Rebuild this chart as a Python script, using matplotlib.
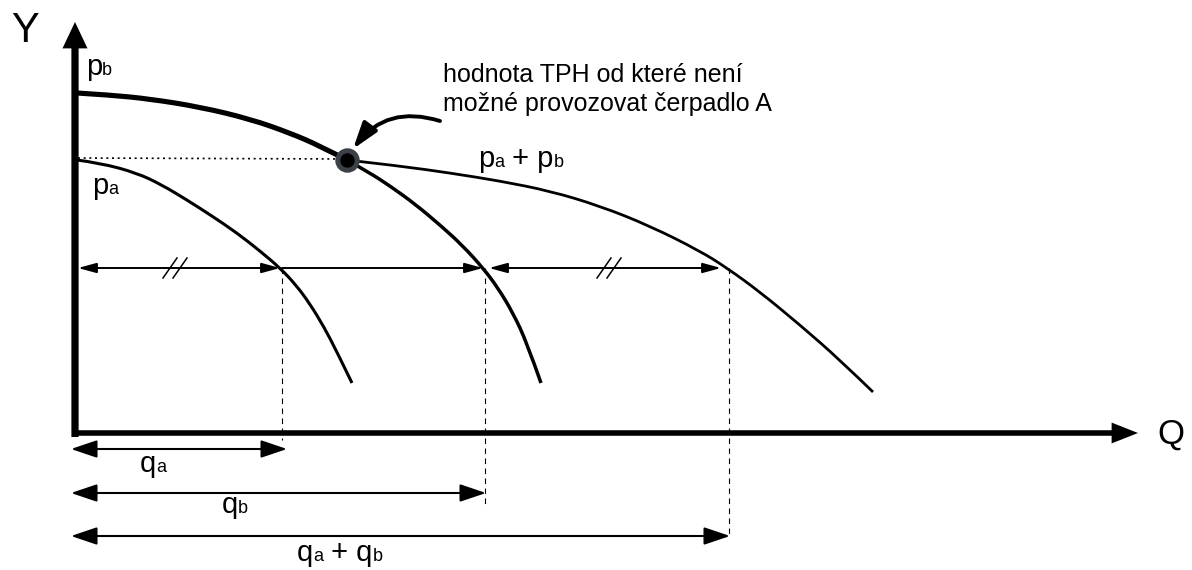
import matplotlib
matplotlib.use("Agg")
import matplotlib.pyplot as plt
from matplotlib.path import Path
from matplotlib.patches import PathPatch

plt.rcParams['font.family'] = ['Liberation Sans', 'DejaVu Sans']

# curves (x = flow Q, y = head Y, in sketch pixel units, y grows downward)
pa_q = [77, 100, 137, 162, 187, 212, 237, 260, 280, 296, 310, 324, 337, 352]
pa_y = [160, 163, 173, 185, 200, 216, 233, 251, 268, 285, 304, 327, 352, 383]

pb_q_top = [77, 110, 150, 200, 250, 290, 320, 347]
pb_y_top = [93, 95, 99, 107, 119, 133, 146, 160]
pb_q_low = [347, 370, 390, 415, 440, 462, 483, 498, 513, 527, 541]
pb_y_low = [160, 173, 186, 204, 225, 245, 268, 288, 313, 343, 383]

sum_q = [347, 400, 450, 500, 550, 600, 650, 700, 727, 760, 800, 840, 873]
sum_y = [160, 166, 173, 181, 191, 206, 226, 251, 268, 292, 325, 360, 392]

# special points
limit_q, limit_y = 347, 160           # point where pump A can't run anymore
dim_y = 268                           # level of the equal-head line
cross_q = [282, 485, 729]             # q_a, q_b, q_a + q_b
dash_ends = [440, 505, 538]
break_q = [175, 609]                  # the "//" marks
bottom_y = [449, 493, 536]
bottom_end = [287, 486, 730]

fig = plt.figure(figsize=(11.92, 5.70), dpi=100)
ax = fig.add_axes([0, 0, 1, 1])
ax.set_xlim(0, 1192)
ax.set_ylim(570, 0)
ax.axis("off")


def curve(xs, ys, lw):
    # smooth quadratic path using the read points as control points
    pts = list(zip(xs, ys))
    verts = [pts[0]]
    codes = [Path.MOVETO]
    for i in range(1, len(pts) - 2):
        mid = ((pts[i][0] + pts[i + 1][0]) / 2, (pts[i][1] + pts[i + 1][1]) / 2)
        verts += [pts[i], mid]
        codes += [Path.CURVE3, Path.CURVE3]
    verts += [pts[-2], pts[-1]]
    codes += [Path.CURVE3, Path.CURVE3]
    ax.add_patch(PathPatch(Path(verts, codes), fill=False, ec="k", lw=lw, capstyle="butt"))


# axes with arrows
ax.annotate("", xy=(75, 22), xytext=(75, 437),
            arrowprops=dict(arrowstyle="simple,head_length=0.95,head_width=0.9,tail_width=0.26",
                            fc="k", ec="none", lw=0, shrinkA=0, shrinkB=0, mutation_scale=20))
ax.annotate("", xy=(1138, 433), xytext=(72, 433),
            arrowprops=dict(arrowstyle="simple,head_length=0.95,head_width=0.75,tail_width=0.2",
                            fc="k", ec="none", lw=0, shrinkA=0, shrinkB=0, mutation_scale=20))

# curves
curve(pa_q, pa_y, 2.2)
curve(pb_q_top, pb_y_top, 3.7)
curve(pb_q_low, pb_y_low, 2.5)
curve(sum_q, sum_y, 2.0)

# dotted line from p_a level to the limit point
ax.plot([78, limit_q], [pa_y[0] - 2, limit_y - 1], color="k", lw=1.2, ls=(0, (1.2, 2.2)))

ax.plot(limit_q, limit_y, "o", ms=14, mfc="k", mec="#3b4049", mew=3.6)

# curved arrow from the note to the point
ax.annotate("", xy=(353, 149), xytext=(440, 121),
            arrowprops=dict(arrowstyle="-|>,head_length=0.8,head_width=0.26", lw=2.8, color="k",
                            connectionstyle="arc3,rad=0.35", shrinkA=0, shrinkB=0,
                            mutation_scale=20))

# equal-head dimension line
small = dict(lw=1.4, color="k", shrinkA=0, shrinkB=0, mutation_scale=20)
ax.annotate("", xy=(cross_q[0] - 2, dim_y), xytext=(78, dim_y),
            arrowprops=dict(arrowstyle="<|-|>,head_length=0.55,head_width=0.15", **small))
ax.annotate("", xy=(cross_q[1] - 2, dim_y), xytext=(cross_q[0], dim_y),
            arrowprops=dict(arrowstyle="-|>,head_length=0.55,head_width=0.15", **small))
ax.annotate("", xy=(cross_q[2] - 8, dim_y), xytext=(cross_q[1] + 4, dim_y),
            arrowprops=dict(arrowstyle="<|-|>,head_length=0.55,head_width=0.15", **small))
for bq in break_q:
    for off in (-5, 5):
        ax.plot([bq + off - 7, bq + off + 7], [dim_y + 10, dim_y - 10], color="k", lw=1.1)

# dashed drop lines
for q, e in zip(cross_q, dash_ends):
    ax.plot([q, q], [dim_y, e], color="k", lw=0.8, ls=(0, (5, 4)))

# bottom dimension arrows
big = dict(lw=1.5, color="k", shrinkA=0, shrinkB=0, mutation_scale=20)
for yb, xe in zip(bottom_y, bottom_end):
    ax.annotate("", xy=(xe, yb), xytext=(71, yb),
                arrowprops=dict(arrowstyle="<|-|>,head_length=0.8,head_width=0.27", **big))

# labels
renderer = fig.canvas.get_renderer()


def sublabel(x, y, parts):
    for txt, size in parts:
        t = ax.text(x, y, txt, fontsize=size, ha="left", va="baseline")
        x += t.get_window_extent(renderer).width


BIG, SUB = 21, 13
sublabel(86, 75, [("p", BIG), ("b", SUB)])
sublabel(92, 194, [("p", BIG), ("a", SUB)])
sublabel(478, 167, [("p", BIG), ("a", SUB), (" + p", BIG), ("b", SUB)])
sublabel(140, 472, [("q", BIG), ("a", SUB)])
sublabel(222, 513, [("q", BIG), ("b", SUB)])
sublabel(297, 561, [("q", BIG), ("a", SUB), (" + q", BIG), ("b", SUB)])

ax.text(443, 82, "hodnota TPH od které není", fontsize=18, va="baseline")
ax.text(443, 111, "možné provozovat čerpadlo A", fontsize=18, va="baseline")

ax.text(25, 31, "Y", fontsize=30, ha="center", va="center")
ax.text(1171, 434, "Q", fontsize=25, ha="center", va="center")

fig.savefig("out.png", dpi=100)
